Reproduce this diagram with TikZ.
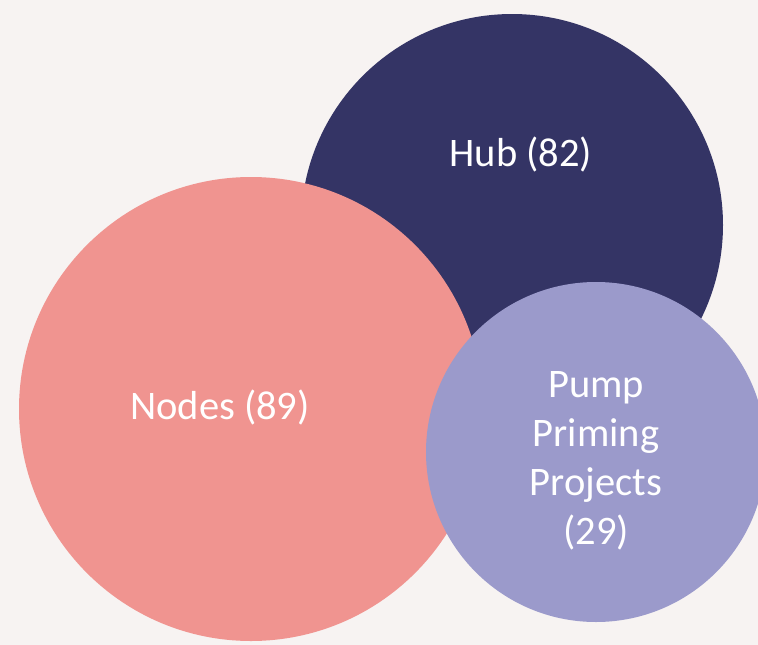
\documentclass[tikz,border=0pt]{standalone}
\usepackage{fontspec}
\setmainfont{Carlito}
\definecolor{paper}{HTML}{F7F3F2}
\definecolor{hubblue}{HTML}{343465}
\definecolor{nodesalmon}{HTML}{F09490}
\definecolor{pumplilac}{HTML}{9B9ACB}
\tikzset{
  bubble/.style={circle, inner sep=0pt, draw=none},
  bubbletext/.style={text=white, align=center, font=\fontsize{40.5}{49}\selectfont}
}
\begin{document}
\begin{tikzpicture}[x=1pt, y=-1pt]
			\fill[paper] (0,0) rectangle (758,645);
			\useasboundingbox (0,0) rectangle (758,645);
			\node[bubble, fill=hubblue, minimum size=422pt] (hub) at (512,225) {};
			\node[bubble, fill=nodesalmon, minimum size=464pt] (nodes) at (251,409) {};
			\node[bubble, fill=pumplilac, minimum size=340pt] (pump) at (596,452) {};
			\node[bubbletext] (hublabel) at (521,154) {Hub (82)};
			\node[bubbletext] (nodeslabel) at (220,407) {Nodes (89)};
			\node[bubbletext] (pumplabel) at (596,461) {Pump\\Priming\\Projects\\(29)};
		\end{tikzpicture}
\end{document}
